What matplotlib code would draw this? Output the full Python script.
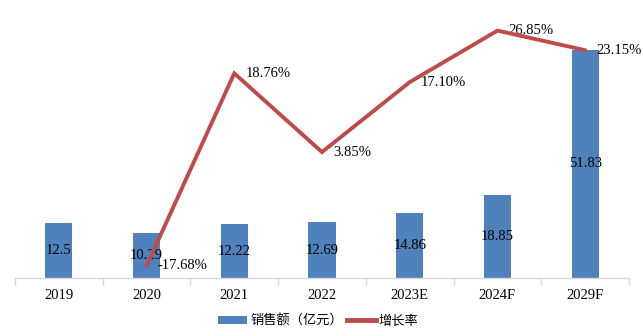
import matplotlib
matplotlib.use("Agg")
import matplotlib.pyplot as plt
from matplotlib.patches import Patch
from matplotlib.lines import Line2D
import numpy as np

years = ["2019", "2020", "2021", "2022", "2023E", "2024F", "2029F"]
sales = [12.5, 10.29, 12.22, 12.69, 14.86, 18.85, 51.83]
sales_labels = ["12.5", "10.29", "12.22", "12.69", "14.86", "18.85", "51.83"]
growth = [None, -17.68, 18.76, 3.85, 17.10, 26.85, 23.15]

BAR_COLOR = "#4F81BD"
LINE_COLOR = "#BE4B48"
SERIF = "Liberation Serif"
CJK = ["Noto Sans CJK SC", "DejaVu Sans"]

fig = plt.figure(figsize=(6.43, 3.36), dpi=100)
ax = fig.add_axes([15 / 643, 58 / 336, 614 / 643, 264 / 336])
ax2 = ax.twinx()

x = np.arange(len(years))
ax.bar(x, sales, width=0.31, color=BAR_COLOR, zorder=2)
for xi, v, lab in zip(x, sales, sales_labels):
    ax.text(xi, v / 2, lab, ha="center", va="center", fontsize=10.5,
            family=SERIF, color="black", zorder=3)

ax.set_xlim(-0.5, len(years) - 0.5)
ax.set_ylim(0, 60)
ax.set_yticks([])
for s in ("top", "left", "right"):
    ax.spines[s].set_visible(False)
ax.spines["bottom"].set_color("#D9D9D9")
ax.spines["bottom"].set_linewidth(1.0)
ax.set_xticks(x)
ax.set_xticklabels(years, family=SERIF, fontsize=10.5)
ax.tick_params(axis="x", length=0, pad=8)
ax.set_xticks(np.arange(-0.5, len(years)), minor=True)
ax.tick_params(axis="x", which="minor", length=5, color="#D9D9D9", width=1.0)

gx = [xi for xi, g in zip(x, growth) if g is not None]
gy = [g for g in growth if g is not None]
ax2.plot(gx, gy, color=LINE_COLOR, linewidth=2.8, solid_joinstyle="miter",
         solid_capstyle="round", zorder=4)
for xi, g in zip(gx, gy):
    ax2.annotate(f"{g:.2f}%", (xi, g), xytext=(8, 0), textcoords="offset points",
                 ha="left", va="center", fontsize=10.5, family=SERIF)
ax2.set_ylim(-20, 30)
ax2.set_yticks([])
for s in ax2.spines.values():
    s.set_visible(False)

handles = [Patch(facecolor=BAR_COLOR, edgecolor="none"),
           Line2D([0], [0], color=LINE_COLOR, linewidth=3.5)]
fig.legend(handles, ["销售额（亿元）", "增长率"], loc="center",
           bbox_to_anchor=(0.495, 1 - 321 / 336), ncol=2, frameon=False,
           prop={"family": CJK, "size": 9.5}, handlelength=2.2,
           handleheight=0.55, columnspacing=0.3, handletextpad=0.2)

fig.savefig("out.png", dpi=100)
